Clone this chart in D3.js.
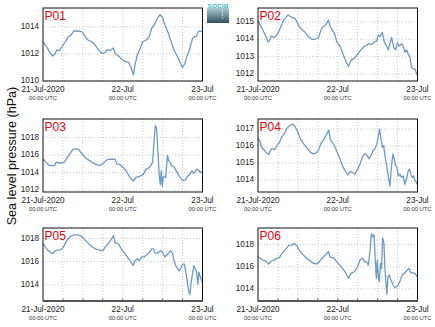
<!DOCTYPE html>
<html>
<head>
<meta charset="utf-8">
<script src="https://cdn.jsdelivr.net/npm/d3@7"></script>
<style>
  html, body { margin: 0; padding: 0; background: #fff; }
  svg { display: block; font-family: "Liberation Sans", Arial, sans-serif; }
</style>
</head>
<body>
<svg id="chart" width="435" height="327"></svg>
<script>
// ---------------- DATA ----------------
const panelNames = ["P01", "P02", "P03", "P04", "P05", "P06"];
const xTickLabels = ["21-Jul-2020", "22-Jul", "23-Jul"];
const xTickSubLabel = "00:00 UTC";
const yAxisTitle = "Sea level pressure (hPa)";

const p01Hours = [0,1.2,2.2,2.9,3.7,4.2,5,5.7,6.7,7.7,8.5,9.2,10.2,11.7,12.7,13.4,14.7,15.7,16.7,17.7,18.7,19.2,20.2,21.2,21.7,22.7,23.7,24.7,25.7,26.4,27.2,27.7,28.4,29.2,30,31.2,32,32.7,33.7,34.4,35.2,36,36.7,37.7,38.7,39.7,40.7,41.4,42,42.7,43.4,44.2,45,45.7,46.2,46.7,47.2,47.9];
const p01Values = [1012.9,1012.5,1012.05,1011.85,1012.05,1012.3,1012.25,1012.55,1012.9,1013.3,1013.4,1013.7,1013.7,1013.65,1013.3,1013.05,1012.9,1012.65,1012.3,1012.05,1012.1,1012.3,1012.25,1012.45,1012.05,1011.85,1011.6,1011.45,1011.4,1011.05,1010.45,1011.2,1011.95,1012.4,1012.9,1013.05,1013.3,1013.9,1014.25,1014.65,1014.9,1014.7,1014.15,1013.55,1012.8,1012.15,1011.7,1011.3,1011.0,1011.3,1011.9,1012.4,1013.15,1013.3,1013.3,1013.65,1013.7,1013.65];

const p02Hours = [0,0.7,1.4,2.2,3.0,3.4,4,4.7,5.2,6.0,6.7,7.5,8.2,9,9.4,10.2,11.2,12.2,13.2,14.2,15.2,16.2,17.2,18.2,19,19.7,20.5,21.2,21.7,22.4,23,23.7,24.7,25.7,26.5,27.2,28,29,30,31,32,32.7,33.4,34.2,35,35.7,36.2,36.7,37.4,38,38.7,39.2,39.7,40.2,40.9,41.4,42,42.5,43.2,43.7,44.2,44.7,45.2,45.7,46.2,46.7,47.2,47.9];
const p02Values = [1015.1,1014.8,1014.55,1014.25,1013.85,1013.9,1014.2,1014.1,1014.15,1014.35,1014.65,1015.0,1015.2,1015.4,1015.35,1015.25,1015.2,1014.8,1014.55,1014.4,1014.15,1014.0,1014.0,1014.1,1014.55,1014.75,1014.85,1015.1,1014.75,1014.5,1014.35,1013.85,1013.6,1013.1,1012.7,1012.45,1012.8,1012.9,1013.15,1013.4,1013.6,1013.65,1013.75,1013.7,1013.85,1013.9,1014.25,1014.15,1014.4,1013.85,1013.6,1013.4,1013.75,1014.1,1013.5,1013.4,1013.8,1013.6,1013.75,1013.6,1013.25,1013.4,1013.15,1013.0,1012.4,1012.3,1012.3,1011.95];

const p03Hours = [0,0.7,1.7,2.7,3.4,4,4.7,5.7,6.4,7.2,8.2,9,9.7,10.7,11.7,12.7,13.7,14.7,16,17.2,18.2,19.2,20.4,21.7,22.2,23.2,24,25,26.2,27.2,28,29.2,30.2,31,31.7,32.4,33,33.4,33.8,34.2,34.6,35,35.3,35.6,35.9,36.2,36.6,36.9,37.2,37.5,37.8,38.2,38.7,39.4,40.2,41,42,42.8,43.4,44.2,44.8,45.4,46.2,46.8,47.4,47.9];
const p03Values = [1015.55,1015.25,1014.85,1014.8,1014.8,1015.2,1015.1,1015.1,1015.2,1015.65,1016.2,1016.65,1016.7,1016.65,1016.15,1015.7,1015.45,1015.2,1014.9,1014.8,1015.1,1015.45,1015.55,1015.5,1015.0,1014.9,1014.65,1014.2,1013.45,1013.05,1013.45,1013.6,1013.8,1014.4,1014.5,1014.8,1015.2,1017.5,1019.35,1019.05,1016.35,1013.6,1012.65,1014.2,1012.45,1013.45,1013.6,1013.45,1014.8,1015.95,1015.35,1015.2,1014.8,1014.65,1014.15,1013.6,1013.1,1013.15,1013.55,1013.8,1014.2,1013.9,1014.4,1014.3,1014.0,1014.1];

const p04Hours = [0,0.5,1,1.7,2.4,3.2,3.7,4.2,5,5.7,6.4,7.2,8,8.7,9.4,10.4,11,11.7,12.7,13.7,14.7,15.7,16.7,17.5,18.2,18.9,19.7,20.5,21.3,21.8,22.4,23.2,24,24.7,25.4,26.2,27,27.7,28.4,29.2,30,30.7,31.4,32,32.7,33.4,34,34.6,35.2,35.8,36.2,36.6,37,37.4,37.8,38.2,38.7,39.2,39.7,40.2,40.6,41,41.4,41.8,42.2,42.7,43.2,43.7,44.2,44.7,45.2,45.6,46,46.4,46.8,47.2,47.6,47.9];
const p04Values = [1016.45,1016.35,1015.95,1015.8,1015.65,1015.5,1015.75,1015.85,1015.8,1016.05,1016.2,1016.55,1016.75,1017.05,1017.2,1017.3,1017.2,1016.95,1016.45,1016.15,1015.9,1015.65,1015.55,1015.6,1015.75,1016.15,1016.35,1016.65,1016.95,1016.35,1016.2,1015.95,1015.55,1015.25,1014.85,1014.55,1014.3,1014.5,1014.45,1014.35,1014.65,1014.95,1015.35,1015.55,1015.5,1015.25,1015.45,1015.75,1015.85,1016.15,1016.55,1017.0,1016.45,1015.95,1016.05,1015.45,1014.85,1014.25,1013.65,1014.85,1015.55,1015.25,1014.85,1014.75,1014.25,1014.35,1014.15,1014.25,1013.75,1014.05,1014.55,1014.65,1014.35,1014.15,1014.25,1014.0,1013.9,1013.75];

const p05Hours = [0,0.7,1.4,2.2,3,3.7,4.7,5.7,6.4,7.2,8.2,9.2,10.7,11.7,12.7,13.7,14.7,15.7,17,18,18.7,19.7,20.5,21.2,21.7,22.4,23,23.7,24.7,25.7,26.5,27.2,27.7,28.4,29,29.7,30.4,31.2,32,32.7,33.2,33.7,34.2,34.8,35.4,36,36.7,37.2,37.8,38.4,39,39.4,40,40.5,41,41.5,42,42.5,43,43.4,43.8,44.2,44.6,45,45.4,45.8,46.2,46.6,46.9,47.2,47.6,47.9];
const p05Values = [1017.55,1017.25,1017.0,1016.8,1016.7,1016.95,1017.0,1017.1,1017.4,1017.85,1018.15,1018.3,1018.3,1018.15,1017.85,1017.55,1017.3,1017.1,1017.0,1016.95,1017.25,1017.6,1017.9,1018.25,1017.6,1017.6,1017.4,1017.0,1016.7,1016.25,1015.95,1015.65,1016.1,1016.25,1016.1,1016.4,1016.4,1016.6,1016.8,1017.1,1017.1,1016.75,1016.7,1016.8,1016.95,1016.8,1016.4,1016.55,1016.7,1016.95,1016.7,1016.1,1015.6,1015.4,1015.2,1015.45,1015.75,1015.8,1015.1,1014.35,1013.5,1013.15,1014.25,1014.95,1015.65,1015.4,1015.1,1014.05,1015.1,1014.8,1014.45,1014.3];

const p06Hours = [0,0.7,1.4,2.2,3.2,3.7,4.7,5.7,6.4,7.2,8.2,9.2,10.2,10.9,11.7,12.7,13.7,14.7,15.7,16.7,17.7,18.4,19.2,20.2,21.2,21.7,22.4,23.2,24,25,26.2,27.2,28,29,30,30.7,31.4,32,32.7,33.2,33.7,34.1,34.5,34.9,35.3,35.6,35.9,36.2,36.5,36.9,37.2,37.5,37.9,38.2,38.5,38.8,39.1,39.5,40,40.7,41.2,42,42.7,43.4,44.2,45,45.5,46,46.7,47.2,47.9];
const p06Values = [1016.9,1016.75,1016.6,1016.55,1016.25,1016.45,1016.6,1016.75,1016.8,1017.2,1017.55,1017.9,1017.95,1018.1,1017.9,1017.35,1017.05,1016.75,1016.55,1016.3,1016.25,1016.45,1016.75,1017.05,1017.35,1016.85,1016.85,1016.65,1016.35,1016.0,1015.55,1014.95,1015.4,1015.55,1016.0,1016.6,1016.8,1016.45,1016.45,1016.15,1017.35,1018.95,1018.7,1018.9,1016.6,1014.95,1016.6,1015.1,1014.65,1016.3,1015.85,1018.6,1018.1,1015.85,1014.5,1013.5,1015.1,1015.25,1014.8,1014.35,1014.1,1014.25,1014.65,1015.25,1015.45,1015.7,1015.85,1015.45,1015.45,1015.4,1015.1];

const yDomains = [[1010, 1015.4], [1011.6, 1015.8], [1011.8, 1020.1], [1013.3, 1017.6], [1012.6, 1018.9], [1012.9, 1019.5]];
const yTickValues = [[1010, 1012, 1014], [1012, 1013, 1014, 1015], [1012, 1014, 1016, 1018], [1014, 1015, 1016, 1017], [1014, 1016, 1018], [1014, 1016, 1018]];

const seriesHours = [p01Hours, p02Hours, p03Hours, p04Hours, p05Hours, p06Hours];
const seriesValues = [p01Values, p02Values, p03Values, p04Values, p05Values, p06Values];

// ---------------- LAYOUT ----------------
const colLeft = [43, 258];
const rowTop = [8, 119, 228];
const panelW = 159.5;
const panelH = 73;
const lineColor = "#6a9ac8";

const svg = d3.select("#chart");
const t0 = Date.UTC(2020, 6, 21);
const hourMs = 3600 * 1000;

panelNames.forEach((name, i) => {
  const col = i % 2, row = Math.floor(i / 2);
  const left = colLeft[col], top = rowTop[row];
  const g = svg.append("g").attr("transform", `translate(${left},${top})`);

  const x = d3.scaleUtc()
    .domain([new Date(t0), new Date(t0 + 48 * hourMs)])
    .range([0, panelW]);
  const y = d3.scaleLinear().domain(yDomains[i]).range([panelH, 0]);

  // grid
  const gridTimes = d3.range(6, 48, 6).map(h => new Date(t0 + h * hourMs));
  g.append("g").selectAll("line").data(gridTimes).join("line")
    .attr("x1", d => x(d)).attr("x2", d => x(d))
    .attr("y1", 0).attr("y2", panelH)
    .attr("stroke", "#bdbdbd").attr("stroke-width", 0.8)
    .attr("stroke-dasharray", "1,2");
  g.append("g").selectAll("line").data(yTickValues[i]).join("line")
    .attr("x1", 0).attr("x2", panelW)
    .attr("y1", d => y(d)).attr("y2", d => y(d))
    .attr("stroke", "#bdbdbd").attr("stroke-width", 0.8)
    .attr("stroke-dasharray", "1,2");

  // line
  const pts = seriesHours[i].map((h, k) => [new Date(t0 + h * hourMs), seriesValues[i][k]]);
  g.append("path")
    .datum(pts)
    .attr("fill", "none")
    .attr("stroke", lineColor)
    .attr("stroke-width", 1.3)
    .attr("stroke-linejoin", "round")
    .attr("d", d3.line().x(d => x(d[0])).y(d => y(d[1])));

  // frame
  g.append("rect")
    .attr("x", 0).attr("y", 0).attr("width", panelW).attr("height", panelH)
    .attr("fill", "none").attr("stroke", "#111").attr("stroke-width", 1);

  if (row === 2) {
    g.append("line").attr("x1", 0).attr("x2", panelW)
      .attr("y1", panelH).attr("y2", panelH)
      .attr("stroke", "#555").attr("stroke-width", 2);
    g.append("g").selectAll("line").data(gridTimes).join("line")
      .attr("x1", d => x(d)).attr("x2", d => x(d))
      .attr("y1", panelH).attr("y2", panelH - 2.5)
      .attr("stroke", "#555").attr("stroke-width", 1);
  }

  // y axis labels
  const yAxis = d3.axisLeft(y).tickValues(yTickValues[i]).tickSize(0).tickPadding(4).tickFormat(d3.format("d"));
  const ya = g.append("g").call(yAxis);
  ya.select(".domain").remove();
  ya.selectAll("text").attr("font-size", 8.2).attr("fill", "#222").attr("dy", "0.2em")
    .attr("font-family", "'Liberation Sans', Arial, sans-serif");

  // x axis labels
  const xTicks = [0, 24, 48].map(h => new Date(t0 + h * hourMs));
  const xa = g.append("g").attr("transform", `translate(0,${panelH})`);
  xa.selectAll("text.d").data(xTicks).join("text")
    .attr("class", "d")
    .attr("x", d => x(d)).attr("y", 11)
    .attr("text-anchor", "middle").attr("font-size", 8.2).attr("fill", "#222")
    .text((d, k) => xTickLabels[k]);
  xa.selectAll("text.u").data(xTicks).join("text")
    .attr("class", "u")
    .attr("x", d => x(d)).attr("y", 19.3)
    .attr("text-anchor", "middle").attr("font-size", 5.8).attr("fill", "#333")
    .text(xTickSubLabel);

  // title
  g.append("text").attr("x", 1.5).attr("y", 11.5)
    .attr("font-size", 12).attr("fill", "#e8000b")
    .text(name);
});

// y axis title
svg.append("text")
  .attr("transform", "translate(16,156) rotate(-90)")
  .attr("text-anchor", "middle")
  .attr("font-size", 12.6).attr("fill", "#111")
  .text(yAxisTitle);

// logo
const defs = svg.append("defs");
const grad = defs.append("linearGradient").attr("id", "logoGrad")
  .attr("x1", 0).attr("y1", 0).attr("x2", 0).attr("y2", 1);
grad.append("stop").attr("offset", "0%").attr("stop-color", "#a9cbd6");
grad.append("stop").attr("offset", "100%").attr("stop-color", "#34505e");
const logo = svg.append("g").attr("transform", "translate(207,3)");
logo.append("rect").attr("x", 0).attr("y", 5).attr("width", 22).attr("height", 15)
  .attr("fill", "url(#logoGrad)");
logo.selectAll("rect.dot").data([7, 9.5, 12, 14.5]).join("rect")
  .attr("class", "dot").attr("x", 15).attr("y", d => d).attr("width", 1).attr("height", 1)
  .attr("fill", "#fff");
logo.append("text").attr("x", 11).attr("y", 4.8).attr("text-anchor", "middle")
  .attr("font-size", 6).attr("fill", "#36b8c9").attr("font-weight", "bold")
  .attr("textLength", 21).attr("lengthAdjust", "spacingAndGlyphs")
  .text("SOCIB");
</script>
</body>
</html>
